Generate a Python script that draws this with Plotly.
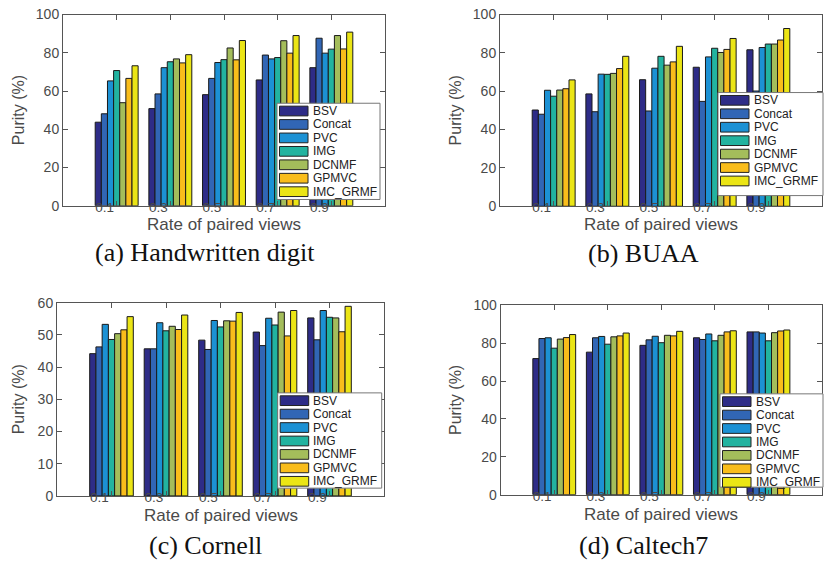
import plotly.graph_objects as go

methods = ["BSV", "Concat", "PVC", "IMG", "DCNMF", "GPMVC", "IMC_GRMF"]
rates = ["0.1", "0.3", "0.5", "0.7", "0.9"]
colors = ["#2E2C87", "#3166B5", "#1C91D4", "#22B3A0", "#A4BD5B", "#F9BD1B", "#EBE515"]

# Purity (%) per method (rows follow `methods`), columns follow `rates`
purity_handwritten = [
    [43.7, 50.8, 58.1, 65.8, 72.2],
    [48.1, 58.5, 66.6, 78.8, 87.6],
    [65.3, 72.2, 74.9, 76.8, 79.8],
    [70.7, 75.3, 76.4, 77.5, 81.9],
    [53.9, 76.8, 82.5, 86.3, 89.0],
    [66.6, 74.7, 76.3, 79.8, 82.0],
    [73.2, 79.0, 86.4, 89.0, 90.8],
]
purity_buaa = [
    [50.2, 58.6, 66.0, 72.5, 81.6],
    [48.0, 49.3, 49.7, 54.7, 60.1],
    [60.5, 68.9, 72.0, 77.9, 82.8],
    [57.4, 68.8, 78.2, 82.4, 84.6],
    [60.6, 69.3, 73.6, 80.2, 84.6],
    [61.3, 71.8, 75.3, 81.8, 86.7],
    [65.9, 78.2, 83.4, 87.5, 92.7],
]
purity_cornell = [
    [44.2, 45.7, 48.4, 50.9, 55.3],
    [46.3, 45.7, 45.5, 46.7, 48.5],
    [53.3, 53.8, 54.5, 55.2, 57.6],
    [48.6, 51.3, 52.5, 53.1, 55.5],
    [50.4, 52.7, 54.4, 57.1, 55.3],
    [51.6, 51.7, 54.3, 49.7, 51.0],
    [55.7, 56.2, 57.0, 57.6, 58.9],
]
purity_caltech7 = [
    [71.9, 75.3, 78.9, 82.9, 86.0],
    [82.5, 82.9, 81.8, 82.0, 86.0],
    [82.9, 83.6, 83.7, 84.9, 85.4],
    [77.4, 79.5, 80.3, 81.3, 81.3],
    [82.2, 83.4, 84.2, 84.2, 85.6],
    [83.0, 83.9, 83.9, 86.0, 86.5],
    [84.6, 85.4, 86.3, 86.6, 87.0],
]
captions = ["(a) Handwritten digit", "(b) BUAA", "(c) Cornell", "(d) Caltech7"]
y_ranges = [[0, 100], [0, 100], [0, 60], [0, 100]]
y_dticks = [20, 20, 10, 20]

W, H = 824, 570
def px(x): return x / W
def py(y): return 1 - y / H

# panel geometry in pixels: (left, right, top, bottom)
panels = [
    (63, 385, 6.7, 203.5),
    (500, 822, 6.7, 204),
    (57, 384, 303.3, 502),
    (500.7, 822, 306, 500.7),
]
legend_boxes = [
    (277, 98, 380, 197),
    (718, 87, 823, 193),
    (277.7, 396, 381.7, 494),
    (720, 397, 823, 493),
]
caption_pos = [(205, 252), (643, 253), (205, 553), (643, 553)]
xtitle_y = [223, 223, 522, 521]
ytitle_x = [18, 455, 18, 455]

datasets = [purity_handwritten, purity_buaa, purity_cornell, purity_caltech7]

fig = go.Figure()
shapes = []
annotations = []
axis_gray = "#555555"
tick_font = dict(family="Liberation Sans, Arial", size=14, color="#4a4a4a")
xtick_font = dict(family="Liberation Sans, Arial", size=13.5, color="#4a4a4a")

for k, data in enumerate(datasets):
    suf = "" if k == 0 else str(k + 1)
    xa, ya = "x" + suf, "y" + suf
    for m, name in enumerate(methods):
        fig.add_trace(go.Bar(
            x=rates, y=data[m], name=name, xaxis=xa, yaxis=ya,
            marker=dict(color=colors[m], line=dict(color="#1a1a1a", width=1)),
            showlegend=False,
        ))
    l, r, t, b = panels[k]
    fig.layout["xaxis" + suf] = dict(
        domain=[px(l), px(r)], anchor=ya, type="category",
        categoryorder="array", categoryarray=rates, range=[-1, 5],
        showline=True, linecolor=axis_gray, linewidth=1, mirror="ticks",
        ticks="inside", ticklen=5, tickcolor=axis_gray,
        tickfont=xtick_font, ticklabelshift=-12, ticklabelstandoff=-11,
        showgrid=False, zeroline=False, fixedrange=True,
    )
    fig.layout["yaxis" + suf] = dict(
        domain=[py(b), py(t)], anchor=xa, range=y_ranges[k], dtick=y_dticks[k],
        showline=True, linecolor=axis_gray, linewidth=1, mirror="ticks",
        ticks="inside", ticklen=5, tickcolor=axis_gray,
        tickfont=tick_font, showgrid=False, zeroline=False, fixedrange=True,
    )
    # axis titles
    annotations.append(dict(
        text="Rate of paired views", xref="paper", yref="paper",
        x=px((l + r) / 2), y=py(xtitle_y[k]), xanchor="center", yanchor="middle",
        showarrow=False, font=dict(family="Liberation Sans, Arial", size=17, color="#4a4a4a"),
    ))
    annotations.append(dict(
        text="Purity (%)", xref="paper", yref="paper", textangle=-90,
        x=px(ytitle_x[k]), y=py((t + b) / 2), xanchor="center", yanchor="middle",
        showarrow=False, font=dict(family="Liberation Sans, Arial", size=16, color="#4a4a4a"),
    ))
    # caption
    cx, cy = caption_pos[k]
    annotations.append(dict(
        text=captions[k], xref="paper", yref="paper",
        x=px(cx), y=py(cy), xanchor="center", yanchor="middle",
        showarrow=False, font=dict(family="Liberation Serif, Times New Roman", size=26, color="#111111"),
    ))
    # legend box (drawn over bars)
    x0, y0, x1, y1 = legend_boxes[k]
    shapes.append(dict(type="rect", xref="paper", yref="paper",
                       x0=px(x0), x1=px(x1), y0=py(y1), y1=py(y0),
                       fillcolor="white", line=dict(color="#777777", width=1), layer="above"))
    for m, name in enumerate(methods):
        yc = y0 + 8 + m * 13.83
        shapes.append(dict(type="rect", xref="paper", yref="paper",
                           x0=px(x0 + 2.5), x1=px(x0 + 31), y0=py(yc + 5), y1=py(yc - 5),
                           fillcolor=colors[m], line=dict(color="#222222", width=1), layer="above"))
        annotations.append(dict(
            text=name, xref="paper", yref="paper", x=px(x0 + 33.5), y=py(yc),
            xanchor="left", yanchor="middle", showarrow=False,
            font=dict(family="Liberation Sans, Arial", size=12, color="#222222"),
        ))

fig.update_layout(
    width=W, height=H, margin=dict(l=0, r=0, t=0, b=0),
    paper_bgcolor="white", plot_bgcolor="white",
    barmode="group", bargap=0.2, bargroupgap=0,
    shapes=shapes, annotations=annotations, showlegend=False,
)

fig.write_html(
    "out.html",
    config={"displayModeBar": False},
    post_script="document.body.style.margin='0';document.body.style.overflow='hidden';",
)
